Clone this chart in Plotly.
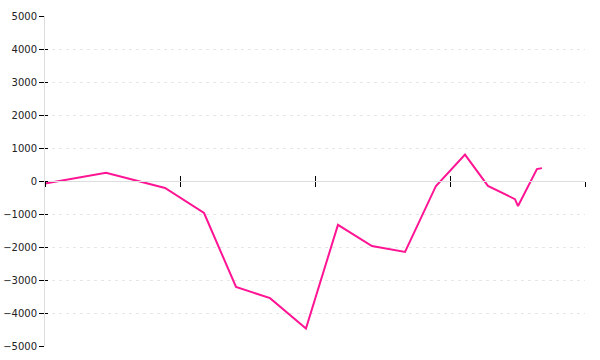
import plotly.graph_objects as go

x_vals = [0.0, 0.452, 0.889, 1.178, 1.415, 1.667, 1.933, 2.170, 2.422, 2.667,
          2.896, 3.111, 3.281, 3.481, 3.504, 3.644, 3.681]
y_vals = [-80, 250, -210, -970, -3210, -3550, -4470, -1330, -1970, -2150,
          -150, 800, -150, -550, -760, 360, 390]

y_tick_vals = [-5000, -4000, -3000, -2000, -1000, 0, 1000, 2000, 3000, 4000, 5000]
y_tick_text = ["\u22125000", "\u22124000", "\u22123000", "\u22122000", "\u22121000", "0",
               "1000", "2000", "3000", "4000", "5000"]
x_tick_vals = [0, 1, 2, 3, 4]

fig = go.Figure()
fig.add_trace(go.Scatter(x=x_vals, y=y_vals, mode="lines",
                         line=dict(color="#ff1493", width=2), showlegend=False))
# invisible trace for overlay axes
fig.add_trace(go.Scatter(x=[0], y=[0], xaxis="x2", yaxis="y2", mode="markers",
                         marker=dict(opacity=0), showlegend=False, hoverinfo="skip"))

fig.update_layout(
    width=600, height=360,
    margin=dict(l=45, r=15, t=16, b=14),
    paper_bgcolor="white", plot_bgcolor="white",
    font=dict(family="DejaVu Sans", size=10, color="#222"),
    xaxis=dict(range=[0, 4], tickvals=x_tick_vals, showticklabels=False,
               ticks="outside", ticklen=5, tickwidth=1, tickcolor="black",
               showgrid=False, zeroline=False, showline=True, linecolor="#dddddd",
               anchor="free", position=0.5, automargin=False),
    yaxis=dict(range=[-5000, 5000], tickvals=y_tick_vals, ticktext=y_tick_text,
               ticks="outside", ticklen=5, tickwidth=1, tickcolor="black",
               showgrid=True, gridcolor="#e6e6e6", griddash="3px,4px", gridwidth=1,
               zeroline=False, showline=True, linecolor="#dddddd", automargin=False),
    xaxis2=dict(range=[0, 4], overlaying="x", tickvals=x_tick_vals, showticklabels=False,
                ticks="inside", ticklen=5, tickwidth=1, tickcolor="black",
                showgrid=False, zeroline=False, showline=False,
                anchor="free", position=0.5, side="bottom", automargin=False),
    yaxis2=dict(range=[-5000, 5000], overlaying="y", tickvals=y_tick_vals, showticklabels=False,
                ticks="inside", ticklen=3, tickwidth=1, tickcolor="black",
                showgrid=False, zeroline=False, showline=False, side="left",
                anchor="x2", automargin=False),
)

fig.write_html("out.html")
